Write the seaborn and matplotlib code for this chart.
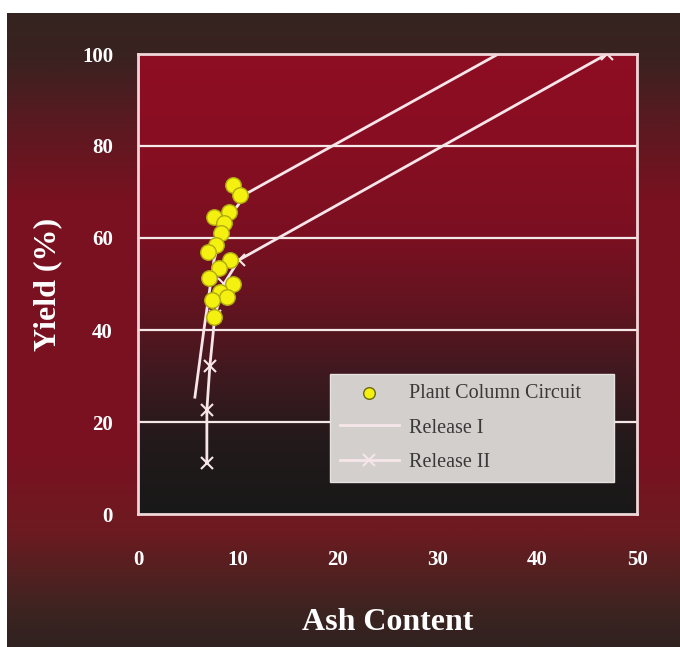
import numpy as np
import matplotlib
matplotlib.use("Agg")
import matplotlib.pyplot as plt
from matplotlib.colors import LinearSegmentedColormap
import seaborn as sns
import pandas as pd

# Plant column circuit samples (ash content, yield %)
plant_ash = [9.5, 10.2, 7.6, 9.1, 8.6, 8.3, 7.8, 7.0, 9.2, 8.1, 7.1, 9.5, 8.2, 8.9, 7.4, 7.6]
plant_yield = [71.5, 69.3, 64.6, 65.7, 63.2, 61.0, 58.5, 57.0, 55.2, 53.4, 51.2, 50.0, 48.3, 47.2, 46.5, 42.9]

# Release curves
rel1_ash = [5.7, 6.6, 7.6, 8.6, 10.9, 36.1]
rel1_yield = [25.4, 40.0, 55.0, 63.0, 69.7, 100.0]

rel2_ash = [6.9, 6.9, 7.2, 7.7, 8.6, 10.1, 47.0]
rel2_yield = [11.1, 22.6, 32.2, 43.0, 50.0, 55.2, 100.0]

x_ticks = [0, 10, 20, 30, 40, 50]
y_ticks = [0, 20, 40, 60, 80, 100]

serif = ["Liberation Serif", "DejaVu Serif"]
W, H = 680, 647
fig = plt.figure(figsize=(W / 100, H / 100), dpi=100)
fig.patch.set_facecolor("white")

# Outer backdrop: brown at top and bottom, deep red through the middle
bg = fig.add_axes([7 / W, 0, (W - 7) / W, (H - 13) / H], zorder=-10)
bg_cmap = LinearSegmentedColormap.from_list(
    "bg",
    [(0.0, "#352420"), (0.07, "#3a2220"), (0.17, "#5a1a20"), (0.3, "#7a1120"),
     (0.69, "#7a1120"), (0.815, "#6e1a20"), (0.88, "#552020"), (0.94, "#3e2420"),
     (1.0, "#302220")])
bg.imshow(np.linspace(0, 1, 256).reshape(-1, 1), aspect="auto", cmap=bg_cmap,
          extent=[0, 1, 0, 1])
bg.set_axis_off()

ax = fig.add_axes([138 / W, (H - 514) / H, 499 / W, 460 / H])

# Plot area gradient: crimson at the top fading to near black at the bottom
pa_cmap = LinearSegmentedColormap.from_list(
    "pa",
    [(0.0, "#191818"), (0.15, "#221a1b"), (0.3, "#3e191f"), (0.45, "#621420"),
     (0.6, "#7a1021"), (0.8, "#880e22"), (1.0, "#8e0d22")])
ax.imshow(np.linspace(0, 1, 256).reshape(-1, 1), origin="lower", aspect="auto",
          cmap=pa_cmap, extent=[0, 50, 0, 100], zorder=0)

for yv in y_ticks[1:]:
    ax.axhline(yv, color="#f4e8e8", lw=1.6, zorder=1)

line_col = "#f6e6ea"
d1 = pd.DataFrame({"ash": rel1_ash, "yield": rel1_yield})
d2 = pd.DataFrame({"ash": rel2_ash, "yield": rel2_yield})
d0 = pd.DataFrame({"ash": plant_ash, "yield": plant_yield})

sns.lineplot(data=d1, x="ash", y="yield", sort=False, estimator=None, ax=ax,
             color=line_col, lw=2, label="Release I", zorder=3)
sns.lineplot(data=d2, x="ash", y="yield", sort=False, estimator=None, ax=ax,
             color=line_col, lw=2, marker="x", markersize=8, markeredgewidth=1.5,
             markeredgecolor=line_col, label="Release II", zorder=3)
sns.scatterplot(data=d0, x="ash", y="yield", ax=ax, color="#f4f010",
                edgecolor="#b0aa10", linewidth=1.0, s=125, marker="o",
                label="Plant Column Circuit", zorder=4)

ax.set_xlim(0, 50)
ax.set_ylim(0, 100)
ax.set_xticks(x_ticks)
ax.set_yticks(y_ticks)
ax.tick_params(axis="both", length=0, colors="white")
ax.tick_params(axis="x", pad=26)
ax.tick_params(axis="y", pad=18)
for lab in ax.get_xticklabels() + ax.get_yticklabels():
    lab.set_fontfamily(serif)
    lab.set_fontweight("bold")
    lab.set_fontsize(15)
    lab.set_color("white")

for sp in ax.spines.values():
    sp.set_color("#f0d6d8")
    sp.set_linewidth(2)
    sp.set_zorder(5)

ax.set_xlabel("Ash Content", fontfamily=serif, fontweight="bold", fontsize=23,
              color="white", labelpad=27)
ax.set_ylabel("Yield (%)", fontfamily=serif, fontweight="bold", fontsize=23,
              color="white", labelpad=14)

handles, labels = ax.get_legend_handles_labels()
order = [labels.index(n) for n in ["Plant Column Circuit", "Release I", "Release II"]]
leg = ax.legend([handles[i] for i in order], [labels[i] for i in order],
                loc="lower left", bbox_to_anchor=(0.385, 0.07, 0.569, 0.235),
                mode="expand", borderaxespad=0, frameon=True, fancybox=False,
                framealpha=1, facecolor="#d3cfcc", edgecolor="#e6e2e0",
                labelspacing=0.75, borderpad=0.5, handlelength=2.9,
                handletextpad=0.5, prop={"family": serif, "size": 14.5})
leg.set_zorder(6)
for t in leg.get_texts():
    t.set_color("#3a3838")
h0 = leg.legend_handles[0]
if hasattr(h0, "set_sizes"):
    h0.set_sizes([70])
    h0.set_edgecolor("#6a6a10")

fig.savefig("out.png", dpi=100, facecolor=fig.get_facecolor())
